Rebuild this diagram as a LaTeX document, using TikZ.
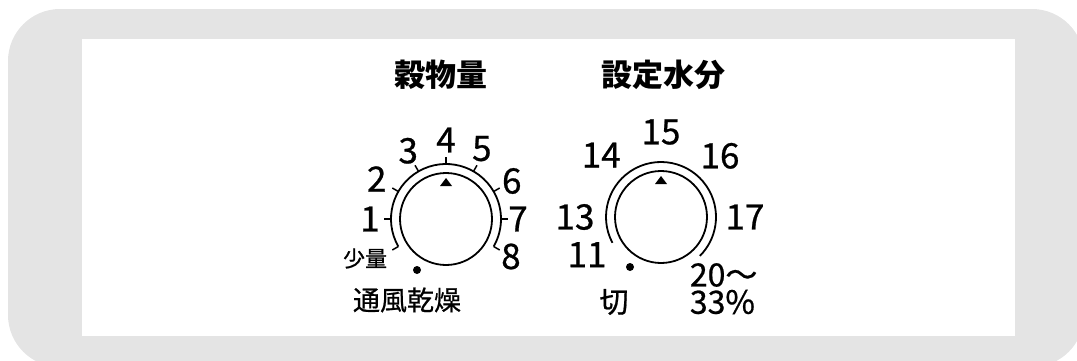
\documentclass[tikz,border=0pt]{standalone}
\usepackage{fontspec}
\setmainfont{Noto Sans CJK JP}
\newfontfamily\numfont{Noto Sans CJK JP}[FakeBold=0.7]
\usepackage{xcolor}
\usepackage{tikz}
\usetikzlibrary{positioning,calc}
\definecolor{panelgray}{HTML}{E4E4E4}

\begin{document}
\begin{tikzpicture}[x=1pt, y=1pt, line width=1.8pt,
  titlelabel/.style={font=\fontsize{31}{31}\selectfont\bfseries, inner sep=0pt},
  numlabel/.style={font=\numfont\fontsize{35}{26}\selectfont, inner sep=0pt},
  smalllabel/.style={font=\numfont\fontsize{22}{22}\selectfont, inner sep=0pt},
  wordlabel/.style={font=\numfont\fontsize{27}{27}\selectfont, inner sep=0pt},
  tickmark/.style={line width=1.5pt}]
\useasboundingbox (0,0) rectangle (1077,360);
% panel
\fill[panelgray, rounded corners=52pt] (8,-7) rectangle (1084,351);
\fill[white] (82,24) rectangle (1015,321);
% dial centres
\coordinate (grain) at (446,141);
\coordinate (moist) at (661,143);
% titles
\node[titlelabel] (grainTitle) at (441,285) {穀物量};
\node[titlelabel] (moistTitle) at (663,285) {設定水分};
% grain dial
\draw (grain) circle[radius=46];
\draw (grain) ++(210:55) arc[start angle=210, end angle=-30, radius=55];
\foreach \a in {-30,0,...,210}
  \draw[tickmark] ($(grain)+(\a:55)$) -- ($(grain)+(\a:62)$);
\fill ($(grain)+(0,41)$) -- ($(grain)+(-6,33)$) -- ($(grain)+(6,33)$) -- cycle;
\foreach \a/\r/\t in {180/76/1, 150/80/2, 119/78/3, 90/79/4, 63/79/5, 30/76/6, 0/72/7, -30/75/8}
  \node[numlabel] (grain-\t) at ($(grain)+(\a:\r)$) {\t};
\node[smalllabel] (grainLow) at ($(grain)+(206:90)$) {少量};
\fill (417,90) circle[radius=4];
\node[wordlabel] (grainAir) at (407,60) {通風乾燥};
% moisture dial
\draw (moist) circle[radius=46];
\draw (moist) ++(208:55) arc[start angle=208, end angle=-45, radius=55];
\fill ($(moist)+(0,41)$) -- ($(moist)+(-6,33)$) -- ($(moist)+(6,33)$) -- cycle;
\foreach \a/\r/\t in {207/83/11, 180/86/13, 134/86/14, 90/85/15, 46/85/16, 0/84/17}
  \node[numlabel] (moist-\t) at ($(moist)+(\a:\r)$) {\t};
\fill (630,93) circle[radius=4];
\node[wordlabel, font=\numfont\fontsize{29}{29}\selectfont] (moistOff) at (614,58) {切};
\node[numlabel, font=\numfont\fontsize{32}{32}\selectfont, anchor=west] (moistHigh) at (689,85) {20～};
\node[numlabel, font=\numfont\fontsize{32}{32}\selectfont, anchor=west] (moistPct) at (689,58) {33\%};
\end{tikzpicture}
\end{document}
